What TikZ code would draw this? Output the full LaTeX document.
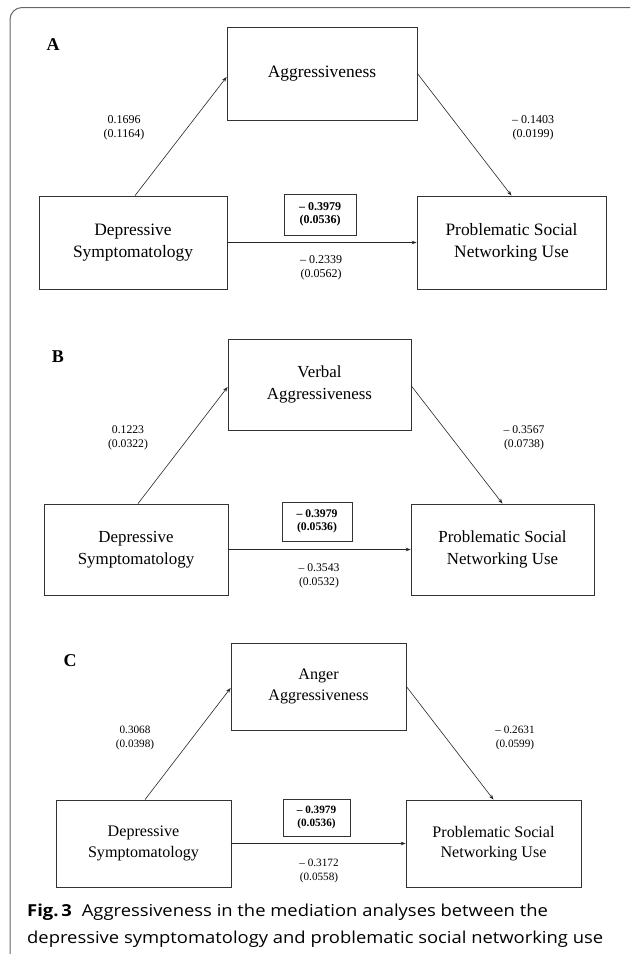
\documentclass[tikz,border=0pt]{standalone}
\usepackage{fontspec}
\setmainfont{Liberation Serif}
\newfontfamily\capfont[FakeStretch=1.115]{Open Sans}
\usetikzlibrary{arrows.meta}
\begin{document}
\begin{tikzpicture}[x=1pt,y=-1pt,
  box/.style={draw=black!80, line width=0.8pt, inner sep=0pt, align=center},
  bbox/.style={draw=black!80, line width=0.8pt, inner sep=0pt, align=center, font=\bfseries\fontsize{12}{13}\selectfont},
  lbl/.style={inner sep=0pt, align=center},
  arr/.style={draw=black!85, line width=0.6pt, -{Stealth[length=5pt,width=3.6pt]}},
  panel/.style={inner sep=0pt, font=\bfseries\fontsize{18}{18}\selectfont},
  captext/.style={anchor=base west, inner sep=0pt, font=\capfont\fontsize{16.5}{20}\selectfont}]
\useasboundingbox (0,0) rectangle (630,954);
\begin{scope}
\clip (0,0) rectangle (630,954);
\draw[black!60, line width=1pt, rounded corners=12pt] (10,7.5) rectangle (645,970);
\end{scope}

% ---------- Panel A ----------
\node[panel] (pA) at (53,45) {A};
\node[box, minimum width=190pt, minimum height=93pt, font=\fontsize{17.4}{22}\selectfont] (aM) at (322,73.5) {Aggressiveness};
\node[box, minimum width=188pt, minimum height=93pt, font=\fontsize{17.4}{22}\selectfont] (aD) at (133,242.5) {Depressive\\Symptomatology};
\node[box, minimum width=189pt, minimum height=93pt, font=\fontsize{17.4}{22}\selectfont] (aP) at (511.5,242.5) {Problematic Social\\Networking Use};
\node[bbox, minimum width=72pt, minimum height=41pt] (aB) at (320,214.5) {– 0.3979\\ (0.0536)};
\node[lbl, font=\fontsize{12}{14.5}\selectfont] (aL) at (124,128) {0.1696\\(0.1164)};
\node[lbl, font=\fontsize{12}{14.5}\selectfont] (aR) at (533,128) {– 0.1403\\ (0.0199)};
\node[lbl, font=\fontsize{12}{14.5}\selectfont] (aC) at (321,268) {– 0.2339\\ (0.0562)};
\draw[arr] ([xshift=2pt]aD.north) -- ([yshift=-3.5pt]aM.west);
\draw[arr] (aM.east) -- (aP.north);
\draw[arr] (aD.east) -- (aP.west);

% ---------- Panel B ----------
\node[panel] (pB) at (58,357) {B};
\node[box, minimum width=183pt, minimum height=91pt, font=\fontsize{16.9}{21.5}\selectfont] (bM) at (319.5,384.5) {Verbal\\Aggressiveness};
\node[box, minimum width=184pt, minimum height=91pt, font=\fontsize{16.9}{21.5}\selectfont] (bD) at (136,549.5) {Depressive\\Symptomatology};
\node[box, minimum width=183pt, minimum height=91pt, font=\fontsize{16.9}{21.5}\selectfont] (bP) at (502.5,549.5) {Problematic Social\\Networking Use};
\node[bbox, minimum width=70pt, minimum height=39pt, font=\bfseries\fontsize{11.7}{13}\selectfont] (bB) at (317,521.5) {– 0.3979\\ (0.0536)};
\node[lbl, font=\fontsize{11.7}{14.5}\selectfont] (bL) at (128,438) {0.1223\\(0.0322)};
\node[lbl, font=\fontsize{11.7}{14.5}\selectfont] (bR) at (524,438) {– 0.3567\\ (0.0738)};
\node[lbl, font=\fontsize{11.7}{14.5}\selectfont] (bC) at (319,576) {– 0.3543\\ (0.0532)};
\draw[arr] ([xshift=2pt]bD.north) -- ([yshift=-2.5pt]bM.west);
\draw[arr] ([yshift=-1.5pt]bM.east) -- (bP.north);
\draw[arr] (bD.east) -- (bP.west);

% ---------- Panel C ----------
\node[panel] (pC) at (70,661) {C};
\node[box, minimum width=175pt, minimum height=87pt, font=\fontsize{16.1}{20.5}\selectfont] (cM) at (318.5,686.5) {Anger\\Aggressiveness};
\node[box, minimum width=175pt, minimum height=87pt, font=\fontsize{16.1}{20.5}\selectfont] (cD) at (143.5,843.5) {Depressive\\Symptomatology};
\node[box, minimum width=175pt, minimum height=87pt, font=\fontsize{16.1}{20.5}\selectfont] (cP) at (493.5,843.5) {Problematic Social\\Networking Use};
\node[bbox, minimum width=67pt, minimum height=37pt, font=\bfseries\fontsize{11.2}{12.5}\selectfont] (cB) at (316.5,817.5) {– 0.3979\\ (0.0536)};
\node[lbl, font=\fontsize{11.2}{14}\selectfont] (cL) at (135,738) {0.3068\\(0.0398)};
\node[lbl, font=\fontsize{11.2}{14}\selectfont] (cR) at (515,738) {– 0.2631\\ (0.0599)};
\node[lbl, font=\fontsize{11.2}{14}\selectfont] (cC) at (319,870.5) {– 0.3172\\ (0.0558)};
\draw[arr] ([xshift=1.5pt]cD.north) -- ([yshift=-1.5pt]cM.west);
\draw[arr] (cM.east) -- (cP.north);
\draw[arr] (cD.east) -- (cP.west);

% ---------- Caption ----------
\node[captext] (cap1) at (27,916) {\textbf{Fig.\,3}\hspace{10pt}Aggressiveness in the mediation analyses between the};
\node[captext] (cap2) at (27,943) {depressive symptomatology and problematic social networking use};
\end{tikzpicture}
\end{document}
